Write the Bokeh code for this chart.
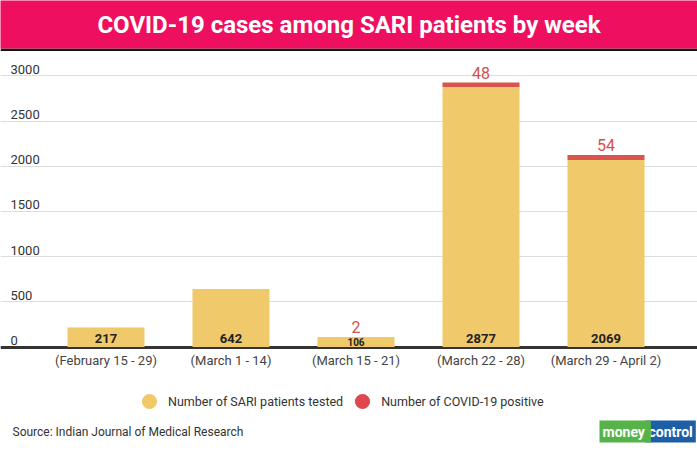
from bokeh.plotting import figure
from bokeh.models import (ColumnDataSource, Range1d, FixedTicker, Grid, Label, Legend, LegendItem)
from bokeh.layouts import column
from bokeh.embed import file_html
from bokeh.resources import INLINE
from bokeh.core.properties import value

# ---------------- data ----------------
weeks = ["(February 15 - 29)", "(March 1 - 14)", "(March 15 - 21)", "(March 22 - 28)", "(March 29 - April 2)"]
tested = [217, 642, 106, 2877, 2069]
positive = [0, 0, 2, 48, 54]
y_ticks = [0, 500, 1000, 1500, 2000, 2500, 3000]
title_text = "COVID-19 cases among SARI patients by week"
source_text = "Source: Indian Journal of Medical Research"
series_names = ["Number of SARI patients tested", "Number of COVID-19 positive"]

YELLOW = "#EFC96A"
RED = "#D9534F"
PINK = "#EF0F60"
FONT = "Roboto"

W = 697
H_HDR = 51
H_MAIN = 410

# ---------------- header ----------------
hdr = figure(width=W, height=H_HDR, x_range=Range1d(0, 1), y_range=Range1d(0, 1),
             x_axis_type=None, y_axis_type=None, toolbar_location=None,
             output_backend="svg", min_border=0, min_border_bottom=3)
hdr.border_fill_color = "#111111"
hdr.background_fill_color = PINK
hdr.outline_line_color = None
hdr.grid.visible = False
hdr.add_layout(Label(x=0.5, y=0.48, text=title_text, text_align="center", text_baseline="middle",
                     text_color="white", text_font=FONT, text_font_style="bold",
                     text_font_size="24px"))

# ---------------- main chart ----------------
xs = list(range(len(weeks)))
src = ColumnDataSource(dict(
    x=xs, tested=tested, positive=positive,
    top=[t + p for t, p in zip(tested, positive)],
    tlab=[str(t) for t in tested],
    tsize=["10px" if t < 200 else "13px" for t in tested],
    toff=[-5 if t < 200 else -9 for t in tested],
    plab=[str(p) if p else "" for p in positive],
))

X_START, X_END = -0.844, 4.732       # whole canvas width
GRID_L, GRID_R = -0.764, 4.516       # extent of grid lines
Y_START, Y_END = -1266.6, 3191.4

p = figure(width=W, height=H_MAIN, x_range=Range1d(X_START, X_END), y_range=Range1d(Y_START, Y_END),
           toolbar_location=None, output_backend="svg",
           x_axis_location=None, y_axis_location=None,
           min_border_left=0, min_border_right=0, min_border_top=7, min_border_bottom=0)
p.outline_line_color = None
for g in p.grid:
    g.visible = False
p.add_layout(Grid(dimension=1, ticker=FixedTicker(ticks=y_ticks[1:]), bounds=(GRID_L, GRID_R),
                  grid_line_color="#DDDDDD", grid_line_width=1))

p.vbar_stack(["tested", "positive"], x="x", width=0.616, color=[YELLOW, RED],
             line_color=None, source=src)

# baseline (zero line)
p.add_layout(Grid(dimension=1, ticker=FixedTicker(ticks=[0]), bounds=(GRID_L, GRID_R),
                  grid_line_color="#333333", grid_line_width=3))

# y tick labels drawn above the grid lines
ysrc = ColumnDataSource(dict(y=y_ticks, x=[GRID_L] * len(y_ticks), t=[str(v) for v in y_ticks]))
p.text(x="x", y="y", text="t", source=ysrc, text_font=value(FONT), text_font_size="13px",
       text_color="#333333", text_align="left", text_baseline="bottom", y_offset=-2)

# category labels
csrc = ColumnDataSource(dict(x=xs, w=weeks))
p.text(x="x", y=0, text="w", source=csrc, text_font=value(FONT), text_font_size="13px",
       text_color="#444444", text_align="center", text_baseline="middle", y_offset=13)

# value labels
p.text(x="x", y=0, text="tlab", source=src, text_font=value(FONT), text_font_size="tsize",
       text_font_style="bold", text_color="#222222", text_align="center",
       text_baseline="middle", y_offset="toff")
p.text(x="x", y="top", text="plab", source=src, text_font=value(FONT), text_font_size="16px",
       text_color="#D0524F", text_align="center", text_baseline="bottom", y_offset=-4)

# legend (circles); markers of size 0 so only the legend glyph shows
d1 = p.scatter(x="x", y="tested", source=src, size=0, marker="circle", color=YELLOW, line_color=None)
d2 = p.scatter(x="x", y="top", source=src, size=0, marker="circle", color="#E0474C", line_color=None)
legend = Legend(items=[LegendItem(label=series_names[0], renderers=[d1]),
                       LegendItem(label=series_names[1], renderers=[d2])],
                orientation="horizontal", location=(130, 41),
                glyph_width=38, glyph_height=38, label_standoff=-2, spacing=-3,
                padding=0, margin=0, border_line_color=None, background_fill_alpha=0,
                label_text_font=FONT, label_text_font_size="12.5px", label_text_color="#333333")
p.add_layout(legend, "center")

# source & logo
p.add_layout(Label(x=12, y=30, x_units="screen", y_units="screen", text=source_text,
                   text_font=FONT, text_font_size="12px", text_color="#333333",
                   text_baseline="middle"))
p.add_layout(Label(x=645, y=30, x_units="screen", y_units="screen", text="control",
                   text_font=FONT, text_font_size="14px", text_font_style="bold",
                   text_color="white", text_baseline="middle", background_fill_color="#1D5FA6",
                   padding=3))
p.add_layout(Label(x=599, y=30, x_units="screen", y_units="screen", text="money",
                   text_font=FONT, text_font_size="14px", text_font_style="bold",
                   text_color="white", text_baseline="middle", background_fill_color="#55B348",
                   padding=[3, 6, 3, 3]))

layout = column(hdr, p, spacing=0)
open("out.html", "w").write(file_html(layout, INLINE))
